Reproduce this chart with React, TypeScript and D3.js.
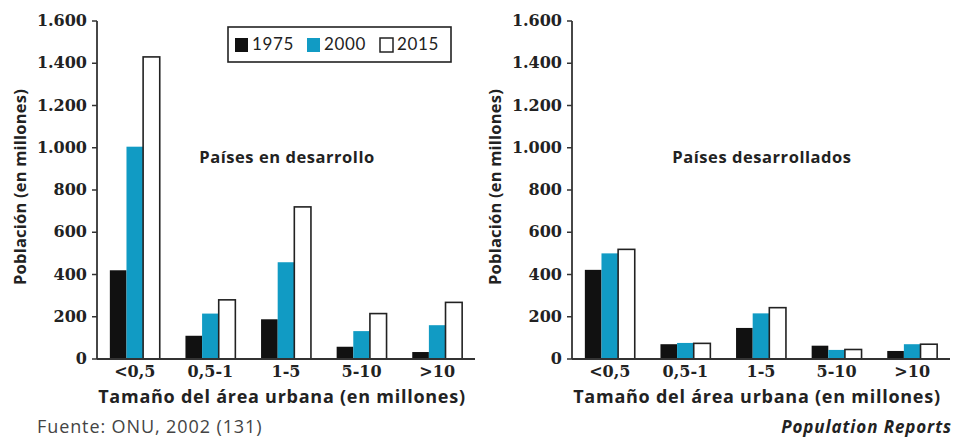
import React from "react";
import * as d3 from "d3";

const categories = ["<0,5", "0,5-1", "1-5", "5-10", ">10"];
const seriesNames = ["1975", "2000", "2015"];
const devDeveloping1975 = [420, 110, 188, 58, 33];
const devDeveloping2000 = [1005, 215, 458, 132, 160];
const devDeveloping2015 = [1430, 280, 720, 215, 268];
const developed1975 = [422, 70, 147, 63, 38];
const developed2000 = [500, 76, 216, 43, 70];
const developed2015 = [519, 74, 243, 45, 70];
const yTicks = [0, 200, 400, 600, 800, 1000, 1200, 1400, 1600];
const panelTitles = ["Países en desarrollo", "Países desarrollados"];

const colors = ["#111111", "#119bc4", "#ffffff"];
const SERIF = "'DejaVu Serif', serif";
const SANS = "'Open Sans', Lato, sans-serif";
const LSANS = "Lato, 'Open Sans', sans-serif";

const fmt = (v: number) => d3.format(",")(v).replace(/,/g, ".");

function Panel({ x0, data, title }: { x0: number; data: number[][]; title: string }) {
  const width = 378;
  const y = d3.scaleLinear().domain([0, 1600]).range([359, 21]);
  const x = d3
    .scaleBand<string>()
    .domain(categories)
    .range([x0, x0 + width])
    .paddingInner(0.34)
    .paddingOuter(0.17);
  const xs = d3.scaleBand<string>().domain(seriesNames).range([0, x.bandwidth()]);
  return (
    <g>
      {categories.map((c, i) => (
        <g key={c}>
          {seriesNames.map((s, j) => {
            const v = data[j][i];
            return (
              <rect
                key={s}
                x={(x(c) as number) + (xs(s) as number)}
                y={y(v)}
                width={xs.bandwidth()}
                height={y(0) - y(v)}
                fill={colors[j]}
                stroke={j === 2 ? "#222" : "none"}
                strokeWidth={j === 2 ? 1.6 : 0}
              />
            );
          })}
          <text
            x={(x(c) as number) + x.bandwidth() / 2}
            y={377}
            textAnchor="middle"
            fontFamily={SERIF}
            fontWeight="bold"
            fontSize={16}
            fill="#222"
          >
            {c}
          </text>
        </g>
      ))}
      <line x1={x0} x2={x0} y1={y(1600)} y2={y(0)} stroke="#333" strokeWidth={1.8} />
      <line x1={x0} x2={x0 + width} y1={y(0)} y2={y(0)} stroke="#333" strokeWidth={1.8} />
      {yTicks.map((t) => (
        <g key={t}>
          <line x1={x0 - 5} x2={x0} y1={y(t)} y2={y(t)} stroke="#333" strokeWidth={1.5} />
          <text
            x={x0 - 10}
            y={y(t) + 5}
            textAnchor="end"
            fontFamily={SERIF}
            fontWeight="bold"
            fontSize={16}
            fill="#222"
          >
            {fmt(t)}
          </text>
        </g>
      ))}
      <text
        transform={`translate(${x0 - 71},${187}) rotate(-90)`}
        textAnchor="middle"
        fontFamily={SANS}
        fontWeight="bold"
        fontSize={16.5}
        letterSpacing={0.2}
        fill="#222"
      >
        Población (en millones)
      </text>
      <text
        x={x0 + 185}
        y={403}
        textAnchor="middle"
        fontFamily={SANS}
        fontWeight="bold"
        fontSize={18}
        letterSpacing={0.75}
        fill="#222"
      >
        Tamaño del área urbana (en millones)
      </text>
      <text
        x={x0 + 190}
        y={163}
        textAnchor="middle"
        fontFamily={SANS}
        fontWeight="bold"
        fontSize={16.5}
        letterSpacing={0.55}
        fill="#222"
      >
        {title}
      </text>
    </g>
  );
}

export default function App() {
  const legendX = [235, 307, 380];
  return (
    <svg
      width={955}
      height={440}
      style={{ position: "absolute", left: 0, top: 0, background: "#fff" }}
    >
      <Panel x0={97} data={[devDeveloping1975, devDeveloping2000, devDeveloping2015]} title={panelTitles[0]} />
      <Panel x0={572} data={[developed1975, developed2000, developed2015]} title={panelTitles[1]} />
      <rect x={228} y={27} width={223} height={35} fill="#fff" stroke="#222" strokeWidth={1.6} />
      {seriesNames.map((s, i) => (
        <g key={s}>
          <rect
            x={legendX[i]}
            y={38}
            width={13}
            height={14}
            fill={colors[i]}
            stroke={i === 2 ? "#222" : "none"}
            strokeWidth={1.5}
          />
          <text x={legendX[i] + 17} y={50} fontFamily={LSANS} fontSize={17} letterSpacing={0.6} fill="#222">
            {s}
          </text>
        </g>
      ))}
      <text x={37} y={433} fontFamily={SANS} fontSize={18} letterSpacing={0.9} fill="#444">
        Fuente: ONU, 2002 (131)
      </text>
      <text
        x={952}
        y={433}
        textAnchor="end"
        fontFamily={SANS}
        fontWeight="bold"
        fontStyle="italic"
        fontSize={17}
        letterSpacing={0.9}
        fill="#222"
      >
        Population Reports
      </text>
    </svg>
  );
}
